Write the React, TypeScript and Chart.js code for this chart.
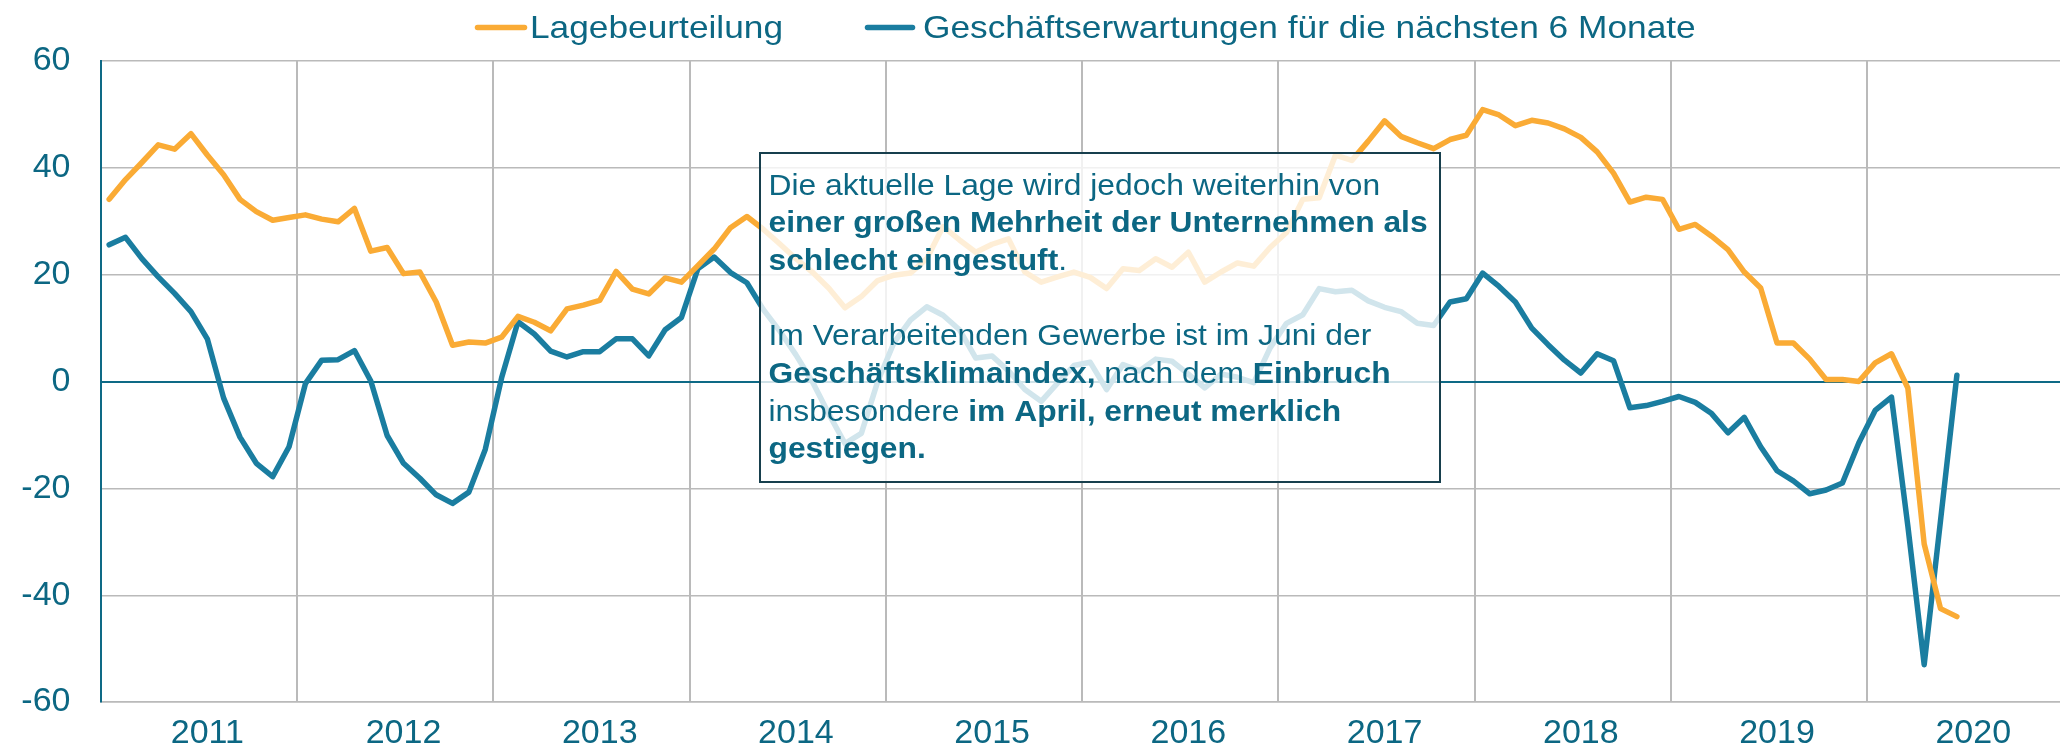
import React, { useEffect, useRef } from "react";
import { Chart, registerables } from "chart.js";

Chart.register(...registerables);

// ---------- data ----------
const years = ["2011", "2012", "2013", "2014", "2015", "2016", "2017", "2018", "2019", "2020"];

const seriesNames = ["Lagebeurteilung", "Geschäftserwartungen für die nächsten 6 Monate"];

// monthly values, Jan 2011 .. Jun 2020
const lageValues = [
  34.1, 37.8, 41.0, 44.3, 43.5, 46.4, 42.4, 38.7, 34.1, 31.8, 30.2, 30.7,
  31.2, 30.4, 29.9, 32.4, 24.4, 25.1, 20.2, 20.5, 14.9, 6.8, 7.4, 7.2,
  8.3, 12.2, 11.1, 9.5, 13.6, 14.3, 15.2, 20.6, 17.3, 16.4, 19.4, 18.6,
  21.7, 24.8, 28.8, 30.9, 28.5, 25.8, 23.0, 20.5, 17.5, 13.8, 15.9, 18.9,
  19.9, 20.3, 23.0, 29.0, 26.5, 24.2, 25.7, 26.7, 20.5, 18.6, 19.6, 20.5,
  19.5, 17.4, 21.1, 20.8, 23.0, 21.4, 24.2, 18.6, 20.5, 22.2, 21.6, 25.1,
  27.9, 34.1, 34.4, 42.4, 41.4, 45.0, 48.8, 45.9, 44.7, 43.6, 45.3, 46.1,
  50.9, 49.9, 47.9, 48.9, 48.4, 47.3, 45.7, 43.0, 39.0, 33.6, 34.5, 34.1,
  28.5, 29.4, 27.2, 24.7, 20.5, 17.5, 7.2, 7.2, 4.2, 0.4, 0.4, 0.0,
  3.5, 5.2, -1.2, -30.4, -42.5, -44.0,
];

const erwartungValues = [
  25.6, 27.0, 23.0, 19.6, 16.5, 13.1, 8.0, -3.1, -10.4, -15.3, -17.8, -12.2,
  -0.4, 4.0, 4.1, 5.8, 0.1, -10.1, -15.3, -18.1, -21.2, -22.8, -20.7, -12.7,
  0.7, 11.2, 8.9, 5.7, 4.6, 5.6, 5.6, 8.0, 8.0, 4.8, 9.7, 12.0,
  21.1, 23.3, 20.4, 18.5, 13.5, 9.5, 5.0, 0.0, -6.0, -11.6, -9.7, 0.0,
  7.3, 11.5, 14.0, 12.4, 9.7, 4.4, 4.8, 2.0, -1.5, -3.7, -0.3, 3.0,
  3.6, -1.5, 3.2, 2.0, 4.2, 3.8, 1.4, -1.2, 1.4, 0.8, -0.2, 6.3,
  10.9, 12.5, 17.4, 16.8, 17.1, 15.1, 13.9, 13.1, 10.9, 10.5, 14.9, 15.5,
  20.3, 17.8, 14.9, 10.0, 6.9, 4.0, 1.6, 5.2, 3.9, -4.9, -4.5, -3.7,
  -2.8, -3.9, -6.0, -9.6, -6.7, -12.2, -16.7, -18.6, -21.0, -20.3, -19.0, -11.5,
  -5.4, -2.9, -27.0, -53.0, -26.0, 1.2,
];

const yMin = -60;
const yMax = 60;
const yStep = 20;

const noteLines: [string, boolean][][] = [
  [["Die aktuelle Lage wird jedoch weiterhin von", false]],
  [["einer großen Mehrheit der Unternehmen als", true]],
  [["schlecht eingestuft", true], [".", false]],
  [],
  [["Im Verarbeitenden Gewerbe ist im Juni der", false]],
  [["Geschäftsklimaindex,", true], [" nach dem ", false], ["Einbruch", true]],
  [["insbesondere ", false], ["im April, erneut merklich", true]],
  [["gestiegen.", true]],
];

// ---------- style ----------
const ORANGE = "#FAAB35";
const TEAL = "#1A7DA0";
const TEXT = "#0C6783";
const GRID = "#bababa";
const ZERO = "#0E6A86";
const FONT = "'Liberation Sans', Arial, sans-serif";

const monthLabels = years.flatMap((y) =>
  ["01", "02", "03", "04", "05", "06", "07", "08", "09", "10", "11", "12"].map((m) => `${y}-${m}`)
);

const legendPlugin = {
  id: "customLegend",
  afterDraw(chart: any) {
    const ctx = chart.ctx as CanvasRenderingContext2D;
    const items = [
      { x0: 477.5, x1: 524.5, tx: 530 },
      { x0: 867.5, x1: 912.5, tx: 923 },
    ];
    ctx.save();
    chart.data.datasets.forEach((ds: any, i: number) => {
      const it = items[i];
      ctx.beginPath();
      ctx.strokeStyle = ds.borderColor;
      ctx.lineWidth = 5.5;
      ctx.lineCap = "round";
      ctx.moveTo(it.x0, 27.5);
      ctx.lineTo(it.x1, 27.5);
      ctx.stroke();
      ctx.save();
      ctx.translate(it.tx, 38);
      ctx.scale(1.12, 1);
      ctx.font = `31.5px ${FONT}`;
      ctx.fillStyle = TEXT;
      ctx.textBaseline = "alphabetic";
      ctx.fillText(ds.label, 0, 0);
      ctx.restore();
    });
    ctx.restore();
  },
};

const notePlugin = {
  id: "noteBox",
  afterDatasetsDraw(chart: any) {
    const ctx = chart.ctx as CanvasRenderingContext2D;
    const bx = 760, by = 153, bw = 680, bh = 329;
    ctx.save();
    ctx.fillStyle = "rgba(255,255,255,0.8)";
    ctx.fillRect(bx, by, bw, bh);
    ctx.strokeStyle = "#173f4d";
    ctx.lineWidth = 2;
    ctx.strokeRect(bx, by, bw, bh);
    const sx = 1.06;
    const size = 30;
    ctx.fillStyle = TEXT;
    ctx.textBaseline = "alphabetic";
    noteLines.forEach((line, li) => {
      let x = 768.5;
      const y = 194.5 + li * 37.7;
      line.forEach(([txt, bold]) => {
        ctx.font = `${bold ? "bold " : ""}${size}px ${FONT}`;
        ctx.save();
        ctx.translate(x, y);
        ctx.scale(sx, 1);
        ctx.fillText(txt, 0, 0);
        ctx.restore();
        x += ctx.measureText(txt).width * sx;
      });
    });
    ctx.restore();
  },
};

export default function App() {
  const canvasRef = useRef<HTMLCanvasElement | null>(null);

  useEffect(() => {
    const canvas = canvasRef.current;
    if (!canvas) return;
    const chart = new Chart(canvas, {
      type: "line",
      data: {
        labels: monthLabels,
        datasets: [
          {
            label: seriesNames[0],
            data: lageValues,
            borderColor: ORANGE,
            backgroundColor: ORANGE,
            borderWidth: 5.5,
            pointRadius: 0,
            tension: 0,
            borderJoinStyle: "round",
            borderCapStyle: "round",
          },
          {
            label: seriesNames[1],
            data: erwartungValues,
            borderColor: TEAL,
            backgroundColor: TEAL,
            borderWidth: 5.5,
            pointRadius: 0,
            tension: 0,
            borderJoinStyle: "round",
            borderCapStyle: "round",
          },
        ],
      },
      options: {
        animation: false,
        responsive: false,
        devicePixelRatio: 1,
        layout: { padding: { top: 61, left: 0, right: 0, bottom: 0 } },
        plugins: {
          legend: { display: false },
          tooltip: { enabled: false },
        },
        scales: {
          x: {
            type: "category",
            offset: true,
            grid: {
              offset: true,
              drawTicks: false,
              lineWidth: 2,
              color: (c: any) =>
                c.index !== undefined && c.index > 0 && c.index % 12 === 0 ? GRID : "rgba(0,0,0,0)",
            },
            border: { display: true, color: GRID, width: 1.5 },
            ticks: {
              autoSkip: false,
              maxRotation: 0,
              minRotation: 0,
              padding: 11,
              color: TEXT,
              font: { family: FONT, size: 34 },
              callback: (_v: any, index: number) =>
                index % 12 === 6 ? years[Math.floor(index / 12)] : "",
            },
            afterFit: (scale: any) => {
              scale.height = 45;
            },
          },
          y: {
            min: yMin,
            max: yMax,
            grid: {
              drawTicks: false,
              lineWidth: (c: any) => (c.tick && c.tick.value === 0 ? 2 : 1.5),
              color: (c: any) => (c.tick && c.tick.value === 0 ? ZERO : GRID),
            },
            border: { display: true, color: ZERO, width: 2 },
            ticks: {
              stepSize: yStep,
              padding: 30.5,
              color: TEXT,
              font: { family: FONT, size: 34 },
            },
            afterFit: (scale: any) => {
              scale.width = 101;
            },
          },
        },
      },
      plugins: [notePlugin, legendPlugin],
    } as any);
    return () => chart.destroy();
  }, []);

  return (
    <div
      style={{
        position: "fixed",
        left: 0,
        top: 0,
        width: 2060,
        height: 753,
        overflow: "hidden",
        background: "#ffffff",
      }}
    >
      <canvas ref={canvasRef} width={2066} height={753} style={{ width: 2066, height: 753, display: "block" }} />
    </div>
  );
}
